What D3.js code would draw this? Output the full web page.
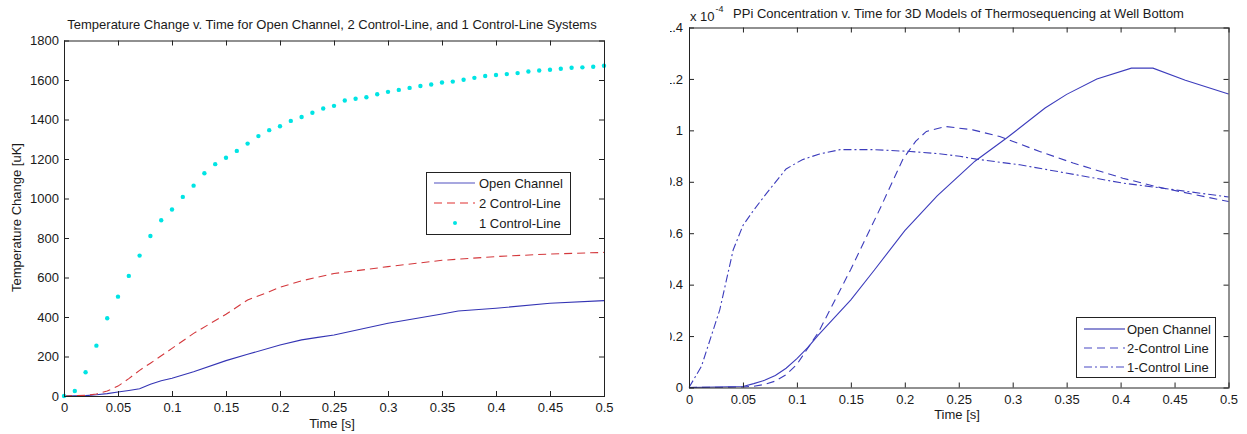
<!DOCTYPE html>
<html>
<head>
<meta charset="utf-8">
<script src="https://cdn.jsdelivr.net/npm/d3@7"></script>
<style>
  html, body { margin: 0; padding: 0; background: #fff; }
  svg { display: block; }
  text { font-family: "Liberation Sans", Arial, sans-serif; fill: #1a1a1a; }
</style>
</head>
<body>
<svg id="chart" width="1247" height="434"></svg>
<script>
// ---------- Data: left chart (Temperature change) ----------
const leftTitle = "Temperature Change v. Time for Open Channel, 2 Control-Line, and 1 Control-Line Systems";
const leftYLabel = "Temperature Change [uK]";
const xLabel = "Time [s]";
const xTicks = [0, 0.05, 0.1, 0.15, 0.2, 0.25, 0.3, 0.35, 0.4, 0.45, 0.5];
const leftYTicks = [0, 200, 400, 600, 800, 1000, 1200, 1400, 1600, 1800];
const leftSeriesNames = ["Open Channel", "2 Control-Line", "1 Control-Line"];

const openTimeL = [0, 0.02, 0.03, 0.04, 0.05, 0.06, 0.07, 0.08, 0.09, 0.1, 0.12, 0.15, 0.17, 0.2, 0.22, 0.235, 0.25, 0.3, 0.35, 0.365, 0.4, 0.45, 0.5];
const openTempL = [0, 2, 6, 12, 20, 28, 37, 60, 77, 90, 123, 179, 211, 258, 284, 297, 309, 368, 415, 430, 444, 470, 483];

const twoTimeL = [0, 0.02, 0.03, 0.04, 0.05, 0.06, 0.07, 0.08, 0.1, 0.12, 0.15, 0.17, 0.19, 0.2, 0.22, 0.235, 0.25, 0.3, 0.35, 0.4, 0.45, 0.5];
const twoTempL = [0, 3, 10, 25, 50, 88, 130, 166, 241, 317, 414, 486, 528, 551, 583, 602, 620, 655, 687, 706, 719, 727];

const oneTimeL = [0, 0.01, 0.02, 0.03, 0.04, 0.05, 0.06, 0.07, 0.08, 0.09, 0.1, 0.11, 0.12, 0.13, 0.14, 0.15, 0.16, 0.17, 0.18, 0.19, 0.2, 0.21, 0.22, 0.23, 0.24, 0.25, 0.26, 0.27, 0.28, 0.29, 0.3, 0.31, 0.32, 0.33, 0.34, 0.35, 0.36, 0.37, 0.38, 0.39, 0.4, 0.41, 0.42, 0.43, 0.44, 0.45, 0.46, 0.47, 0.48, 0.49, 0.5];
const oneTempL = [0, 25, 120, 255, 394, 503, 608, 711, 810, 890, 944, 1008, 1065, 1128, 1174, 1206, 1241, 1278, 1316, 1346, 1366, 1393, 1413, 1434, 1456, 1469, 1496, 1505, 1513, 1528, 1540, 1550, 1560, 1570, 1577, 1587, 1592, 1601, 1611, 1620, 1625, 1630, 1635, 1643, 1648, 1652, 1657, 1662, 1664, 1667, 1672];

// ---------- Data: right chart (PPi concentration, x 10^-4) ----------
const rightTitle = "PPi Concentration v. Time for 3D Models of Thermosequencing at Well Bottom";
const rightYTicks = [0, 0.2, 0.4, 0.6, 0.8, 1.0, 1.2, 1.4];
const rightSeriesNames = ["Open Channel", "2-Control Line", "1-Control Line"];

const openTimeR = [0, 0.05, 0.06, 0.07, 0.08, 0.09, 0.1, 0.11, 0.12, 0.15, 0.172, 0.2, 0.23, 0.265, 0.295, 0.33, 0.35, 0.378, 0.41, 0.43, 0.46, 0.5];
const openConcR = [0, 0.004, 0.015, 0.028, 0.047, 0.075, 0.112, 0.155, 0.205, 0.341, 0.458, 0.61, 0.745, 0.88, 0.972, 1.087, 1.14, 1.2, 1.242, 1.242, 1.195, 1.141];

const twoTimeR = [0, 0.05, 0.06, 0.07, 0.08, 0.09, 0.1, 0.12, 0.15, 0.177, 0.198, 0.21, 0.22, 0.238, 0.263, 0.288, 0.325, 0.356, 0.402, 0.433, 0.5];
const twoConcR = [0, 0.002, 0.005, 0.012, 0.025, 0.05, 0.09, 0.215, 0.46, 0.695, 0.886, 0.957, 0.996, 1.015, 1.002, 0.976, 0.918, 0.873, 0.814, 0.781, 0.723];

const oneTimeR = [0, 0.0115, 0.0285, 0.041, 0.05, 0.06, 0.072, 0.09, 0.105, 0.121, 0.14, 0.17, 0.205, 0.232, 0.251, 0.2664, 0.3066, 0.359, 0.402, 0.439, 0.5];
const oneConcR = [0, 0.082, 0.302, 0.536, 0.63, 0.69, 0.756, 0.85, 0.886, 0.908, 0.925, 0.925, 0.918, 0.909, 0.899, 0.888, 0.866, 0.827, 0.795, 0.775, 0.741];

// ---------- Drawing ----------
const svg = d3.select("#chart");
const FONT = 13;
const AX = "#222";
const zip = (xs, ys) => xs.map((x, i) => [x, ys[i]]);
const fmt = d => String(+d.toFixed(2));

function frame(g, x, y, yTicks, yPad) {
  const [x0, x1] = x.range();
  const [y0, y1] = y.range();
  const tick = -5;
  const bottom = g.append("g").attr("transform", `translate(0,${y0})`)
    .call(d3.axisBottom(x).tickValues(xTicks).tickSize(tick).tickPadding(7).tickFormat(fmt));
  const top = g.append("g").attr("transform", `translate(0,${y1})`)
    .call(d3.axisTop(x).tickValues(xTicks).tickSize(tick).tickFormat(""));
  const left = g.append("g").attr("transform", `translate(${x0},0)`)
    .call(d3.axisLeft(y).tickValues(yTicks).tickSize(tick).tickPadding(yPad).tickFormat(fmt));
  const right = g.append("g").attr("transform", `translate(${x1},0)`)
    .call(d3.axisRight(y).tickValues(yTicks).tickSize(tick).tickFormat(""));
  [bottom, top, left, right].forEach(a => {
    a.select(".domain").remove();
    a.selectAll(".tick line").attr("stroke", AX);
    a.selectAll(".tick text").attr("font-size", FONT).attr("font-family", null).attr("fill", "#1a1a1a");
  });
  g.append("rect").attr("x", x0 + 0.5).attr("y", y1 + 0.5)
    .attr("width", x1 - x0).attr("height", y0 - y1)
    .attr("fill", "none").attr("stroke", AX).attr("stroke-width", 1);
}

// ----- Left chart -----
{
  const g = svg.append("g");
  const x = d3.scaleLinear().domain([0, 0.5]).range([64, 604]);
  const y = d3.scaleLinear().domain([0, 1800]).range([396, 40.5]);
  const line = d3.line().x(d => x(d[0])).y(d => y(d[1]));

  g.append("path").datum(zip(openTimeL, openTempL)).attr("d", line)
    .attr("fill", "none").attr("stroke", "#3434b4").attr("stroke-width", 1.1);
  g.append("path").datum(zip(twoTimeL, twoTempL)).attr("d", line)
    .attr("fill", "none").attr("stroke", "#d4383c").attr("stroke-width", 1.1)
    .attr("stroke-dasharray", "8,5");
  g.selectAll("circle.one").data(zip(oneTimeL, oneTempL)).join("circle")
    .attr("class", "one").attr("cx", d => x(d[0])).attr("cy", d => y(d[1]))
    .attr("r", 2.2).attr("fill", "#00e4e4");

  frame(g, x, y, leftYTicks, 5);

  g.append("text").attr("x", 332).attr("y", 29).attr("text-anchor", "middle")
    .attr("font-size", 13).text(leftTitle);
  g.append("text").attr("x", 332).attr("y", 427.5).attr("text-anchor", "middle")
    .attr("font-size", FONT).text(xLabel);
  g.append("text").attr("transform", "translate(20.5,217.5) rotate(-90)")
    .attr("text-anchor", "middle").attr("font-size", FONT).text(leftYLabel);

  // legend
  const lg = g.append("g");
  lg.append("rect").attr("x", 426.5).attr("y", 172.5).attr("width", 144).attr("height", 62)
    .attr("fill", "#fff").attr("stroke", AX);
  const rows = [183, 203, 223];
  lg.append("line").attr("x1", 434).attr("x2", 475).attr("y1", rows[0]).attr("y2", rows[0])
    .attr("stroke", "#5050c0").attr("stroke-width", 1.1);
  lg.append("line").attr("x1", 434).attr("x2", 475).attr("y1", rows[1]).attr("y2", rows[1])
    .attr("stroke", "#e03030").attr("stroke-width", 1.1).attr("stroke-dasharray", "8,5");
  lg.append("circle").attr("cx", 455).attr("cy", rows[2]).attr("r", 2).attr("fill", "#00e4e4");
  leftSeriesNames.forEach((n, i) => {
    lg.append("text").attr("x", 479).attr("y", rows[i] + 4.5).attr("font-size", FONT).text(n);
  });
}

// ----- Right chart -----
{
  svg.append("clipPath").attr("id", "rclip").append("rect")
    .attr("x", 670).attr("y", 0).attr("width", 577).attr("height", 434);
  const g = svg.append("g").attr("clip-path", "url(#rclip)");
  const x = d3.scaleLinear().domain([0, 0.5]).range([689, 1228.5]);
  const y = d3.scaleLinear().domain([0, 1.4]).range([387.5, 27.5]);
  const line = d3.line().x(d => x(d[0])).y(d => y(d[1]));
  const col = "#3c3cbc";

  g.append("path").datum(zip(openTimeR, openConcR)).attr("d", line)
    .attr("fill", "none").attr("stroke", col).attr("stroke-width", 1.1);
  g.append("path").datum(zip(twoTimeR, twoConcR)).attr("d", line)
    .attr("fill", "none").attr("stroke", col).attr("stroke-width", 1.1)
    .attr("stroke-dasharray", "8,5");
  g.append("path").datum(zip(oneTimeR, oneConcR)).attr("d", line)
    .attr("fill", "none").attr("stroke", col).attr("stroke-width", 1.1)
    .attr("stroke-dasharray", "8,3,2,3");

  frame(g, x, y, rightYTicks, 6);

  g.append("text").attr("x", 958.5).attr("y", 17.5).attr("text-anchor", "middle")
    .attr("font-size", 13).text(rightTitle);
  const ex = g.append("text").attr("x", 690).attr("y", 20.5).attr("font-size", FONT);
  ex.append("tspan").text("x 10");
  ex.append("tspan").attr("dy", -8.5).attr("dx", 1).attr("font-size", 9).text("-4");
  g.append("text").attr("x", 957).attr("y", 418.5).attr("text-anchor", "middle")
    .attr("font-size", FONT).text(xLabel);

  const lg = g.append("g");
  lg.append("rect").attr("x", 1076.5).attr("y", 317.5).attr("width", 139).attr("height", 60)
    .attr("fill", "#fff").attr("stroke", AX);
  const rows = [329, 348, 367];
  const dashes = [null, "8,5", "8,3,2,3"];
  rows.forEach((r, i) => {
    const l = lg.append("line").attr("x1", 1084).attr("x2", 1125).attr("y1", r).attr("y2", r)
      .attr("stroke", i === 0 ? "#1c1ca8" : "#4848c4").attr("stroke-width", 1.1);
    if (dashes[i]) l.attr("stroke-dasharray", dashes[i]);
    lg.append("text").attr("x", 1127).attr("y", r + 4.5).attr("font-size", FONT).text(rightSeriesNames[i]);
  });
}
</script>
</body>
</html>
